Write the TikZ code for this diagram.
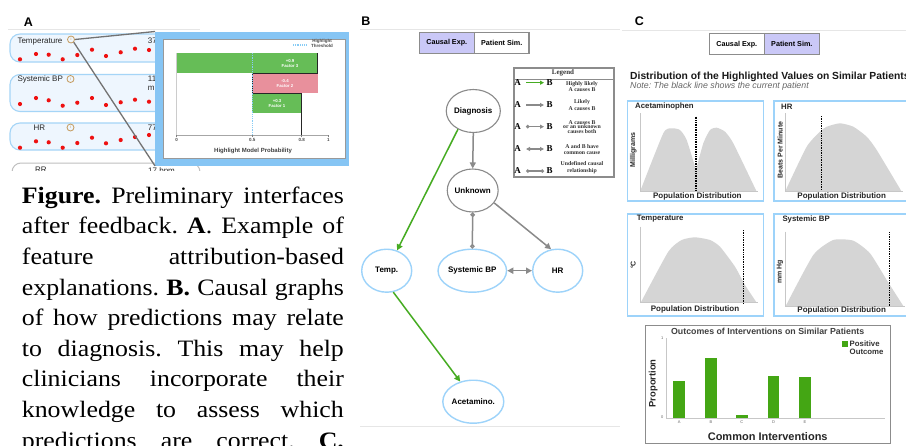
\documentclass[tikz,border=0pt]{standalone}
\usepackage{fontspec}
\setmainfont{Liberation Serif}
\setsansfont{Liberation Sans}
\newfontfamily\capfont[FakeStretch=1.1]{Liberation Serif}
\usetikzlibrary{arrows.meta,shapes.geometric}

\definecolor{rowfill}{HTML}{EEF6FE}
\definecolor{rowline}{HTML}{A5D5F7}
\definecolor{dotred}{HTML}{EE1111}
\definecolor{infotan}{HTML}{C49A5C}
\definecolor{popblue}{HTML}{86C5F4}
\definecolor{pbgreen}{HTML}{66BD57}
\definecolor{pbpink}{HTML}{E8909C}
\definecolor{thrblue}{HTML}{88CCF5}
\definecolor{edgegreen}{HTML}{46AC22}
\definecolor{edgegray}{HTML}{8A8A8A}
\definecolor{nodeblue}{HTML}{9DD3FA}
\definecolor{tabpurple}{HTML}{CAC8F7}
\definecolor{curvegray}{HTML}{D5D5D5}
\definecolor{chartgreen}{HTML}{44A614}
\definecolor{faintline}{HTML}{E6E6E6}

\begin{document}
\frenchspacing
\begin{tikzpicture}[x=1pt,y=-1pt,
  panellbl/.style={font=\sffamily\bfseries\fontsize{12.5}{14}\selectfont, inner sep=0},
  faint/.style={draw=faintline, line width=0.8},
  rowbox/.style={draw=rowline, fill=rowfill, line width=1.1, rounded corners=10},
  rowlbl/.style={font=\sffamily\fontsize{8}{9}\selectfont, inner sep=0, anchor=base west, text=black!85},
  info/.style={circle, draw=infotan, line width=0.8, minimum size=7, inner sep=0, font=\sffamily\fontsize{4}{4}\selectfont, text=infotan},
  zoomln/.style={draw=black!55, line width=1.3},
  tinyb/.style={font=\sffamily\bfseries\fontsize{4.5}{4.8}\selectfont, inner sep=0, align=center},
  barlbl/.style={font=\sffamily\bfseries\fontsize{4.3}{4.8}\selectfont, inner sep=0, align=center, text=white},
  tab/.style={draw=black!45, line width=1.3, minimum height=21, inner sep=0, font=\sffamily\bfseries\fontsize{7.2}{8}\selectfont},
  gnode/.style={ellipse, draw=edgegray, line width=1.1, fill=white, minimum width=50, minimum height=43, inner sep=0, font=\sffamily\bfseries\fontsize{8}{9}\selectfont},
  bnode/.style={gnode, draw=nodeblue, line width=1.4},
  garrow/.style={draw=edgegray, line width=1.5, -{Triangle[length=6pt,width=6pt]}},
  grarrow/.style={draw=edgegreen, line width=1.5, -{Triangle[length=6pt,width=6pt]}},
  legAB/.style={font=\bfseries\fontsize{9}{9}\selectfont, inner sep=0},
  legtxt/.style={font=\bfseries\fontsize{5.8}{6.4}\selectfont, inner sep=0, align=center, text=black!80},
  chartbox/.style={draw=nodeblue, line width=1.6},
  ctitle/.style={font=\sffamily\bfseries\fontsize{7.8}{9}\selectfont, inner sep=0, anchor=west, text=black!85},
  cxlbl/.style={font=\sffamily\bfseries\fontsize{8}{9}\selectfont, inner sep=0, text=black!85},
  cylbl/.style={font=\sffamily\bfseries\fontsize{7}{8}\selectfont, inner sep=0, rotate=90, text=black!85},
  axisgray/.style={draw=black!22, line width=0.7},
  curline/.style={draw=black, line width=1.3, dash pattern=on 1pt off 0.7pt},
  capline/.style={anchor=base west, inner sep=0, font=\capfont\fontsize{23.5}{30}\selectfont}
]
\useasboundingbox (0,0) rectangle (906,445);
\clip (0,0) rectangle (906,445);
\fill[white] (0,0) rectangle (906,445);

% ---------------- Panel A: feature rows and attribution pop-up
\node[panellbl] (lA) at (28.5,22) {A};
\draw[faint] (8,29.5) -- (200,29.5);

\draw[rowbox] (10,34) rectangle (200,62);
\draw[rowbox] (10,74.5) rectangle (200,111.5);
\draw[rowbox] (10,123) rectangle (200,150);

\begin{scope}
  \clip (0,152) rectangle (360,170.5);
  \draw[draw=black!25, line width=1, rounded corners=9] (12,163) rectangle (200,195);
  \node[rowlbl] (t4) at (35,172) {RR};
  \node[rowlbl] (v4) at (148,173) {17 bpm};
\end{scope}

\node[rowlbl] (t1) at (17.3,43) {Temperature};
\node[rowlbl] (t2) at (17.3,81.3) {Systemic BP};
\node[rowlbl] (t3) at (33.5,130.6) {HR};
\node[rowlbl] (v1) at (147.7,43) {37};
\node[rowlbl] (v2) at (147.7,81.3) {11};
\node[rowlbl] (v2b) at (147.7,90) {m};
\node[rowlbl] (v3) at (147.7,130.6) {77};

\node[info] (i1) at (71,39.5) {i};
\node[info] (i2) at (70.5,79) {i};
\node[info] (i3) at (70.5,127.5) {i};

\foreach \x/\y in {20/59.3, 36/54, 48.7/54.7, 62.7/59.3, 77.3/55, 92/49.7, 106/56, 120.7/52.3, 135/48.7, 149/50,
                   20/104, 36/98, 48.7/100.3, 62.7/105.7, 77.3/102.7, 92/98, 106/105, 120.7/102.3, 135/99.7, 149/101.7,
                   20/147.7, 36/141.3, 48.7/142.3, 62.7/147.7, 77.3/143, 92/137.7, 106/143.3, 120.7/140, 135/137, 149/135}
  \fill[dotred] (\x,\y) circle (2.1);

% pop-up frame
\node[fill=popblue, minimum width=193.5, minimum height=134, anchor=north west, inner sep=0] (pop) at (155,31.5) {};
\draw[zoomln] (i1.east) -- (pop.north west);
\draw[zoomln] (i1.south east) -- (pop.south west);
\node[fill=white, draw=black!40, line width=0.4, anchor=north west, minimum width=181.5, minimum height=119, inner sep=0] (popin) at (163,38.5) {};

% waterfall bars
\fill[pbgreen] (176.7,53.3) rectangle (317.7,73.3);
\fill[pbpink] (252.3,73.3) rectangle (318.3,93.3);
\fill[pbgreen] (252.3,93.3) rectangle (301.7,113.3);
\draw[black!85, line width=1.2] (317.7,53.3) -- (317.7,73.3) -- (252.3,73.3) -- (252.3,93.3) -- (301.7,93.3) -- (301.7,135);
\draw[black!20, line width=0.5] (176.7,53.3) -- (176.7,135);
\draw[black!35, line width=0.6] (176.7,135) -- (328.3,135);
\foreach \x in {176.7,252.3,301.7,328.3} \draw[black!50, line width=0.5] (\x,135) -- (\x,137);
\draw[thrblue, line width=1.2, dash pattern=on 1pt off 0.8pt] (252.3,53) -- (252.3,135);
\draw[thrblue, line width=1.2, dash pattern=on 1pt off 0.8pt] (293,45) -- (306,45);
\node[tinyb, text=black!70] (thr) at (322,43.5) {Highlight\\Threshold};
\node[barlbl] (f3) at (290,63.3) {+0.9\\Factor 3};
\node[barlbl] (f2) at (285,83.3) {-0.4\\Factor 2};
\node[barlbl] (f1) at (277,103.3) {+0.3\\Factor 1};
\node[tinyb, text=black!70] (x0) at (176.7,139.5) {0};
\node[tinyb, text=black!70] (x5) at (252.3,139.5) {0.5};
\node[tinyb, text=black!70] (x8) at (301.7,139.5) {0.8};
\node[tinyb, text=black!70] (x1) at (328.3,139.5) {1};
\node[font=\sffamily\bfseries\fontsize{6}{7}\selectfont, inner sep=0, text=black!75] (xt) at (253,151) {Highlight Model Probability};

% caption
\node[capline] (c1) at (21.7,203.3) {\makebox[322pt][s]{\textbf{Figure.} Preliminary interfaces}};
\node[capline] (c2) at (21.7,233.9) {\makebox[322pt][s]{after feedback. \textbf{A}. Example of}};
\node[capline] (c3) at (21.7,264.5) {\makebox[322pt][s]{feature attribution-based}};
\node[capline] (c4) at (21.7,295.1) {\makebox[322pt][s]{explanations. \textbf{B.} Causal graphs}};
\node[capline] (c5) at (21.7,325.7) {\makebox[322pt][s]{of how predictions may relate}};
\node[capline] (c6) at (21.7,356.3) {\makebox[322pt][s]{to diagnosis. This may help}};
\node[capline] (c7) at (21.7,386.9) {\makebox[322pt][s]{clinicians incorporate their}};
\node[capline] (c8) at (21.7,417.5) {\makebox[322pt][s]{knowledge to assess which}};
\node[capline] (c9) at (21.7,448.1) {\makebox[322pt][s]{predictions are correct. \textbf{C.}}};

% ---------------- Panel B: causal graph
\node[panellbl] (lB) at (366,21.5) {B};
\draw[faint] (360,29.5) -- (620,29.5);
\draw[faint] (360,426.7) -- (620,426.7);
\node[tab, fill=tabpurple, minimum width=55] (bT1) at (446.8,42.8) {Causal Exp.};
\node[tab, fill=white, minimum width=54.7] (bT2) at (501.7,42.8) {Patient Sim.};

\node[draw=black!45, line width=2, minimum width=100, minimum height=109, anchor=north west, inner sep=0] (leg) at (513,67) {};
\draw[black!45, line width=1.2] (513,79.5) -- (613,79.5);
\node[font=\bfseries\fontsize{7}{8}\selectfont, inner sep=0, text=black!80] (legT) at (563,73.3) {Legend};
\foreach \k/\y in {1/82.7, 2/105, 3/126.7, 4/149, 5/171} {
  \node[legAB] (la\k) at (517.5,\y) {A};
  \node[legAB] (lb\k) at (549.5,\y) {B};
  \coordinate (ls\k) at (526,\y);
  \coordinate (le\k) at (544,\y);
}
\draw[draw=edgegreen, line width=1.2, -{Triangle[length=4pt,width=4pt]}] (ls1) -- (le1);
\draw[draw=edgegray, line width=1.2, -{Triangle[length=4pt,width=4pt]}] (ls2) -- (le2);
\draw[draw=edgegray, line width=1.2, {Circle[open,length=3.5pt,width=3.5pt]}-{Triangle[length=4pt,width=4pt]}] (ls3) -- (le3);
\draw[draw=edgegray, line width=1.2, {Triangle[length=4pt,width=4pt]}-{Triangle[length=4pt,width=4pt]}] (ls4) -- (le4);
\draw[draw=edgegray, line width=1.2, {Circle[open,length=3.5pt,width=3.5pt]}-{Circle[open,length=3.5pt,width=3.5pt]}] (ls5) -- (le5);
\node[legtxt] (lt1) at (582,86.3) {Highly likely\\A causes B};
\node[legtxt] (lt2) at (582,105.2) {Likely\\A causes B};
\node[legtxt, font=\bfseries\fontsize{5.8}{4.5}\selectfont] (lt3) at (582,126.7) {A causes B\\or an unknown\\causes both};
\node[legtxt] (lt4) at (582,149.8) {A and B have\\common cause};
\node[legtxt] (lt5) at (582,167.4) {Undefined causal\\relationship};

\node[gnode] (diag) at (473.3,111) {Diagnosis};
\node[gnode] (unk) at (472.7,190.5) {Unknown};
\node[bnode] (temp) at (386.7,270.7) {Temp.};
\node[bnode] (sbp) at (472.3,270.7) {Systemic BP};
\node[bnode] (hr) at (557.7,270.7) {HR};
\node[bnode] (acet) at (473.3,401.7) {Acetamino.};

\draw[grarrow] (diag.230) -- (temp.63);
\draw[garrow] (diag.south) -- (unk.north);
\draw[draw=edgegray, line width=1.5, {Circle[open,length=4.5pt,width=4.5pt]}-{Circle[open,length=4.5pt,width=4.5pt]}] (unk.south) -- (sbp.north);
\draw[garrow] (unk.-30) -- (hr.107);
\draw[draw=edgegray, line width=1.5, {Triangle[length=6pt,width=6pt]}-{Triangle[length=6pt,width=6pt]}] (sbp.east) -- (hr.west);
\draw[grarrow] (temp.-73) -- (acet.123);

% ---------------- Panel C: similar patients
\node[panellbl] (lC) at (639.5,21.5) {C};
\draw[faint] (622,30) -- (906,30);
\node[tab, fill=white, minimum width=55] (cT1) at (736.8,44.2) {Causal Exp.};
\node[tab, fill=tabpurple, minimum width=55] (cT2) at (791.8,44.2) {Patient Sim.};

\node[font=\sffamily\bfseries\fontsize{10.3}{11}\selectfont, inner sep=0, anchor=west, text=black!90] (cTitle) at (630,76.7) {Distribution of the Highlighted Values on Similar Patients};
\node[font=\sffamily\itshape\fontsize{8.8}{10}\selectfont, inner sep=0, anchor=west, text=black!60] (cNote) at (630,86.3) {Note: The black line shows the current patient};

% Acetaminophen
\draw[chartbox] (627.3,100.7) rectangle (763.3,200.7);
\node[ctitle] (h1) at (635,106.7) {Acetaminophen};
\fill[curvegray] (640,191.7) -- plot[smooth, tension=0.35] coordinates {(640,191.7) (663.3,133.3) (671.7,128.3) (680,130) (686.7,140) (696,170)} -- plot[smooth, tension=0.35] coordinates {(696,170) (703.3,143.3) (710,130) (716.7,127.7) (725,131.7) (733.3,143.3) (756.7,191.7)} -- cycle;
\draw[axisgray] (640,113) -- (640,191.7) -- (758,191.7);
\draw[curline] (696,116.7) -- (696,190.7);
\node[cylbl] (y1) at (633.3,150) {Milligrams};
\node[cxlbl] (p1) at (697.3,196.5) {Population Distribution};

% HR
\draw[chartbox] (774,100.7) rectangle (912,200.7);
\node[ctitle] (h2) at (781,106.7) {HR};
\fill[curvegray] plot[smooth, tension=0.35] coordinates {(785,191.7) (806.7,146.7) (820,131.7) (826.7,126.7) (840,123.3) (853.3,126.7) (866.7,136.7) (876.7,150) (901.7,191.7)} -- cycle;
\draw[axisgray] (785,113) -- (785,191.7) -- (903,191.7);
\draw[curline] (821.7,116) -- (821.7,190);
\node[cylbl] (y2) at (780,150) {Beats Per Minute};
\node[cxlbl] (p2) at (841.7,196) {Population Distribution};

% Temperature
\draw[chartbox] (627.3,214) rectangle (763.3,315.7);
\node[ctitle] (h3) at (636.7,219) {Temperature};
\fill[curvegray] plot[smooth, tension=0.35] coordinates {(640.7,302.7) (668.3,251.7) (681.7,240) (695,237.3) (710,240) (720,246.7) (735,266.7) (745,285) (756.7,302.7)} -- cycle;
\draw[axisgray] (640.7,226.7) -- (640.7,302.7) -- (758,302.7);
\draw[curline] (743.3,230) -- (743.3,303.3);
\node[cylbl] (y3) at (633.3,265) {°C};
\node[cxlbl] (p3) at (695,309) {Population Distribution};

% Systemic BP
\draw[chartbox] (774,214) rectangle (912,315.7);
\node[ctitle] (h4) at (782.3,219) {Systemic BP};
\fill[curvegray] plot[smooth, tension=0.35] coordinates {(785.7,306) (813.3,255) (833.3,240) (853.3,240.7) (870,253.3) (886.7,280) (903.3,306)} -- cycle;
\draw[axisgray] (785.7,231.7) -- (785.7,306) -- (905,306);
\draw[curline] (889.3,232.3) -- (889.3,306);
\node[cylbl] (y4) at (780,271.7) {mm Hg};
\node[cxlbl] (p4) at (841.7,310) {Population Distribution};

% Outcomes bar chart
\node[draw=black!45, line width=1.3, minimum width=245, minimum height=117.7, anchor=north west, inner sep=0] (bc) at (645,325) {};
\node[font=\sffamily\bfseries\fontsize{8.8}{10}\selectfont, inner sep=0, text=black!75] (bcT) at (767.7,331.5) {Outcomes of Interventions on Similar Patients};
\draw[axisgray] (666,338.3) -- (666,418.3) -- (885,418.3);
\node[tinyb, font=\sffamily\fontsize{4}{4}\selectfont, text=black!60] (yt1) at (662.3,338.5) {1};
\node[tinyb, font=\sffamily\fontsize{4}{4}\selectfont, text=black!60] (yt0) at (662.3,417.5) {0};
\foreach \n/\a/\b/\t in {A/673.3/685/380.7, B/705/716.7/358.3, C/736/747.7/415, D/767.7/779.3/376, E/799/810.7/376.7} {
  \fill[chartgreen] (\a,\t) rectangle (\b,418.3);
  \node[tinyb, font=\sffamily\fontsize{4}{4}\selectfont, text=black!60] (bx\n) at ({(\a+\b)/2},421.8) {\n};
}
\fill[chartgreen] (842,341.2) rectangle (847.5,346.7);
\node[font=\sffamily\bfseries\fontsize{7.8}{8.4}\selectfont, inner sep=0, anchor=west, align=left, text=black!80] (bcL) at (849.5,347.5) {Positive\\Outcome};
\node[font=\sffamily\bfseries\fontsize{9.4}{10}\selectfont, inner sep=0, rotate=90, text=black!85] (bcY) at (653.3,383.3) {Proportion};
\node[font=\sffamily\bfseries\fontsize{11}{12}\selectfont, inner sep=0, text=black!85] (bcX) at (767.7,436.7) {Common Interventions};
\end{tikzpicture}
\end{document}
